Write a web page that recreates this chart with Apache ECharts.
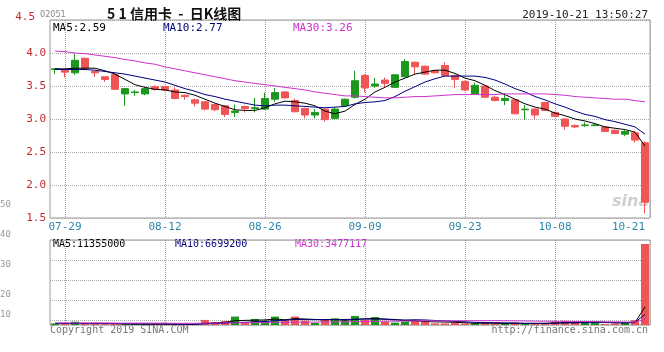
<!DOCTYPE html>
<html>
<head>
<meta charset="utf-8">
<title>51信用卡 - 日K线图</title>
<script src="https://cdn.jsdelivr.net/npm/echarts@6/dist/echarts.min.js"></script>
<style>
  html, body { margin: 0; padding: 0; background: #fff; }
  #chart { width: 664px; height: 352px; }
</style>
</head>
<body>
<div id="chart"></div>
<script>
// 交易日
var dates = [
  "07-26", "07-29", "07-30", "07-31", "08-01", "08-02", "08-05", "08-06", "08-07", "08-08",
  "08-09", "08-12", "08-13", "08-14", "08-15", "08-16", "08-19", "08-20", "08-21", "08-22",
  "08-23", "08-26", "08-27", "08-28", "08-29", "08-30", "09-02", "09-03", "09-04", "09-05",
  "09-06", "09-09", "09-10", "09-11", "09-12", "09-13", "09-16", "09-17", "09-18", "09-19",
  "09-20", "09-23", "09-24", "09-25", "09-26", "09-27", "09-30", "10-02", "10-03", "10-04",
  "10-08", "10-09", "10-10", "10-11", "10-14", "10-15", "10-16", "10-17", "10-18", "10-21"
];
// 显示的日期标签 / 竖线
var labelDates = ["07-29", "08-12", "08-26", "09-09", "09-23", "10-08", "10-21"];
var lineDates = ["07-29", "08-12", "08-26", "09-09", "09-23", "10-08"];

// K线 开 收 低 高
var open = [
  3.75, 3.74, 3.70, 3.92, 3.72, 3.64, 3.67, 3.38, 3.40, 3.38,
  3.49, 3.49, 3.44, 3.36, 3.29, 3.26, 3.22, 3.20, 3.10, 3.19,
  3.16, 3.15, 3.30, 3.41, 3.28, 3.16, 3.06, 3.15, 3.01, 3.20,
  3.33, 3.66, 3.50, 3.59, 3.48, 3.64, 3.86, 3.80, 3.73, 3.81,
  3.66, 3.57, 3.38, 3.50, 3.33, 3.28, 3.29, 3.14, 3.15, 3.25,
  3.10, 3.00, 2.90, 2.90, 2.90, 2.88, 2.83, 2.77, 2.79, 2.64
];
var close = [
  3.76, 3.71, 3.89, 3.77, 3.70, 3.60, 3.45, 3.46, 3.41, 3.46,
  3.45, 3.44, 3.31, 3.34, 3.24, 3.15, 3.14, 3.07, 3.12, 3.16,
  3.17, 3.31, 3.40, 3.32, 3.11, 3.06, 3.10, 2.99, 3.15, 3.30,
  3.58, 3.47, 3.53, 3.54, 3.67, 3.87, 3.79, 3.68, 3.70, 3.66,
  3.60, 3.44, 3.51, 3.33, 3.28, 3.31, 3.08, 3.15, 3.06, 3.13,
  3.04, 2.89, 2.88, 2.91, 2.91, 2.81, 2.78, 2.81, 2.68, 1.74
];
var low = [
  3.68, 3.63, 3.67, 3.76, 3.64, 3.56, 3.44, 3.20, 3.35, 3.36,
  3.43, 3.42, 3.30, 3.29, 3.19, 3.13, 3.12, 3.03, 3.03, 3.10,
  3.10, 3.14, 3.26, 3.31, 3.10, 3.01, 3.01, 2.96, 2.99, 3.19,
  3.31, 3.40, 3.47, 3.47, 3.47, 3.63, 3.68, 3.67, 3.69, 3.65,
  3.47, 3.43, 3.37, 3.32, 3.27, 3.21, 3.07, 2.99, 3.00, 3.12,
  3.03, 2.84, 2.86, 2.88, 2.89, 2.80, 2.77, 2.74, 2.64, 1.57
];
var high = [
  3.77, 3.75, 3.99, 3.93, 3.72, 3.64, 3.70, 3.46, 3.44, 3.48,
  3.51, 3.50, 3.48, 3.37, 3.31, 3.27, 3.23, 3.21, 3.22, 3.20,
  3.32, 3.40, 3.47, 3.42, 3.31, 3.17, 3.15, 3.16, 3.17, 3.31,
  3.73, 3.68, 3.62, 3.63, 3.67, 3.91, 3.87, 3.81, 3.74, 3.86,
  3.67, 3.58, 3.55, 3.51, 3.35, 3.39, 3.30, 3.21, 3.16, 3.26,
  3.11, 3.01, 2.92, 2.95, 2.93, 2.89, 2.84, 2.83, 2.82, 2.66
];

// 均线
var ma5 = [
  3.76, 3.76, 3.77, 3.77, 3.77, 3.73, 3.68, 3.60, 3.52, 3.48,
  3.45, 3.44, 3.41, 3.40, 3.36, 3.30, 3.24, 3.19, 3.14, 3.13,
  3.13, 3.17, 3.23, 3.27, 3.26, 3.24, 3.20, 3.12, 3.08, 3.12,
  3.22, 3.30, 3.41, 3.48, 3.56, 3.62, 3.68, 3.71, 3.74, 3.74,
  3.69, 3.62, 3.58, 3.51, 3.43, 3.37, 3.30, 3.23, 3.18, 3.15,
  3.09, 3.05, 3.00, 2.97, 2.93, 2.88, 2.86, 2.84, 2.80, 2.59
];
var ma10 = [
  3.75, 3.75, 3.75, 3.75, 3.74, 3.72, 3.70, 3.68, 3.65, 3.62,
  3.59, 3.56, 3.51, 3.46, 3.42, 3.37, 3.34, 3.30, 3.27, 3.24,
  3.21, 3.20, 3.21, 3.21, 3.20, 3.19, 3.18, 3.17, 3.18, 3.19,
  3.23, 3.25, 3.26, 3.28, 3.34, 3.42, 3.49, 3.56, 3.61, 3.65,
  3.65, 3.65, 3.65, 3.63, 3.59, 3.53, 3.46, 3.41, 3.34, 3.29,
  3.23, 3.18, 3.12, 3.07, 3.04, 2.99, 2.96, 2.92, 2.88, 2.77
];
var ma30 = [
  4.03, 4.02, 4.00, 3.99, 3.97, 3.95, 3.93, 3.90, 3.88, 3.85,
  3.83, 3.79, 3.76, 3.73, 3.70, 3.67, 3.64, 3.61, 3.58, 3.56,
  3.54, 3.52, 3.50, 3.48, 3.46, 3.44, 3.41, 3.39, 3.37, 3.35,
  3.35, 3.34, 3.33, 3.32, 3.32, 3.33, 3.34, 3.34, 3.35, 3.36,
  3.37, 3.37, 3.37, 3.37, 3.37, 3.38, 3.38, 3.38, 3.38, 3.38,
  3.37, 3.36, 3.34, 3.33, 3.32, 3.31, 3.30, 3.30, 3.28, 3.26
];

// 成交量(百万股)
var volume = [
  1.0, 0.6, 2.1, 1.0, 0.6, 0.5, 0.6, 0.5, 0.4, 0.5,
  0.6, 0.5, 0.5, 0.4, 0.5, 3.2, 1.9, 2.5, 5.3, 1.7,
  3.8, 2.7, 5.3, 2.9, 5.3, 2.7, 1.3, 3.8, 4.2, 2.7,
  5.7, 3.2, 5.0, 2.1, 1.5, 2.1, 2.7, 2.5, 1.0, 1.0,
  1.6, 0.9, 1.1, 1.0, 0.8, 0.9, 1.5, 0.8, 1.0, 0.9,
  2.2, 2.6, 1.6, 1.8, 2.0, 0.6, 0.8, 1.4, 3.0, 51.0
];
var volMa5 = [
  1.0, 1.0, 1.0, 1.0, 1.06, 0.96, 0.96, 0.64, 0.52, 0.50,
  0.52, 0.50, 0.50, 0.50, 0.50, 1.02, 1.30, 1.70, 2.68, 2.92,
  3.04, 3.20, 3.76, 3.28, 4.00, 3.78, 3.50, 3.20, 3.46, 2.94,
  3.54, 3.92, 4.16, 3.74, 3.50, 2.78, 2.68, 2.18, 1.96, 1.86,
  1.76, 1.40, 1.12, 1.12, 1.08, 0.94, 1.06, 1.00, 1.00, 1.02,
  1.28, 1.50, 1.66, 1.82, 2.04, 1.72, 1.36, 1.32, 1.56, 11.36
];
var volMa10 = [
  1.0, 1.0, 1.0, 0.95, 0.9, 0.9, 0.85, 0.8, 0.8, 0.78,
  0.74, 0.73, 0.57, 0.51, 0.50, 0.77, 0.90, 1.10, 1.59, 1.71,
  2.03, 2.25, 2.73, 2.98, 3.46, 3.41, 3.35, 3.48, 3.37, 3.47,
  3.66, 3.71, 3.68, 3.60, 3.22, 3.16, 3.30, 3.17, 2.85, 2.68,
  2.27, 2.04, 1.65, 1.54, 1.47, 1.35, 1.23, 1.06, 1.06, 1.05,
  1.11, 1.28, 1.33, 1.41, 1.53, 1.50, 1.43, 1.49, 1.69, 6.70
];
var volMa30 = [
  1.3, 1.3, 1.3, 1.3, 1.3, 1.3, 1.2, 1.2, 1.2, 1.2,
  1.2, 1.2, 1.1, 1.1, 1.1, 1.2, 1.2, 1.3, 1.4, 1.4,
  1.5, 1.6, 1.7, 1.7, 1.8, 1.8, 1.8, 1.9, 1.9, 1.99,
  2.14, 2.23, 2.33, 2.36, 2.39, 2.45, 2.52, 2.58, 2.60, 2.62,
  2.65, 2.67, 2.69, 2.71, 2.72, 2.64, 2.63, 2.57, 2.43, 2.40,
  2.35, 2.34, 2.22, 2.18, 2.07, 2.00, 1.99, 1.91, 1.87, 3.48
];

// 左侧灰色刻度
var sideTicks = ["50", "40", "30", "20", "10"];

var GREEN = "#1c961c";
var RED = "#f05555";
var MONO = '"DejaVu Sans Mono", monospace';

var kData = dates.map(function (d, i) {
  return [open[i], close[i], low[i], high[i]];
});

// 半格类目轴，用来把竖线画在K线中心
var halfSlots = [];
dates.forEach(function (d) {
  halfSlots.push(d + "L", d + "R");
});
var lineIdx = lineDates.map(function (d) {
  return dates.indexOf(d) * 2 + 1;
});

function gridXAxis(gridIndex) {
  return {
    type: "category",
    gridIndex: gridIndex,
    data: halfSlots,
    boundaryGap: true,
    axisLine: { show: false },
    axisTick: { show: false },
    axisLabel: { show: false },
    splitLine: {
      show: true,
      interval: function (idx) {
        return lineIdx.indexOf(idx) >= 0;
      },
      lineStyle: { type: "dotted", color: "#999", width: 1 }
    }
  };
}

var chart = echarts.init(document.getElementById("chart"));

var option = {
  animation: false,
  backgroundColor: "#fff",
  grid: [
    { left: 50, right: 14, top: 20, height: 198, show: true, borderColor: "#999", borderWidth: 1 },
    { left: 50, right: 14, top: 240, height: 85, show: true, borderColor: "#999", borderWidth: 1 }
  ],
  xAxis: [
    {
      type: "category",
      gridIndex: 0,
      data: dates,
      boundaryGap: true,
      axisLine: { show: false },
      axisTick: { show: false },
      splitLine: { show: false },
      axisLabel: {
        interval: function (idx, val) {
          return labelDates.indexOf(val) >= 0;
        },
        color: "#2a86a8",
        fontFamily: MONO,
        fontSize: 11,
        margin: 4,
        alignMaxLabel: "right"
      }
    },
    {
      type: "category",
      gridIndex: 1,
      data: dates,
      boundaryGap: true,
      axisLine: { show: false },
      axisTick: { show: false },
      axisLabel: { show: false },
      splitLine: { show: false }
    },
    gridXAxis(0),
    gridXAxis(1)
  ],
  yAxis: [
    {
      type: "value",
      gridIndex: 0,
      min: 1.5,
      max: 4.5,
      interval: 0.5,
      axisLine: { show: false },
      axisTick: { show: false },
      axisLabel: {
        color: "#c42b2b",
        fontFamily: MONO,
        fontSize: 11,
        margin: 4,
        formatter: function (v) {
          return v === 4.5 ? "{t|4.5}" : v.toFixed(1);
        },
        rich: {
          t: { color: "#c42b2b", fontFamily: MONO, fontSize: 11, padding: [0, 11, 6, 0] }
        }
      },
      splitLine: { lineStyle: { type: "dotted", color: "#aaa" } }
    },
    {
      type: "value",
      gridIndex: 1,
      min: 0,
      max: 53.5,
      show: false,
      splitLine: { show: false }
    },
    {
      // 成交量区横线
      type: "value",
      gridIndex: 1,
      inverse: true,
      min: 0,
      max: 85,
      interval: 20,
      axisLine: { show: false },
      axisTick: { show: false },
      axisLabel: { show: false },
      splitLine: { lineStyle: { type: "dotted", color: "#aaa" } }
    }
  ],
  series: [
    {
      name: "K",
      type: "candlestick",
      xAxisIndex: 0,
      yAxisIndex: 0,
      barWidth: 7,
      data: kData,
      itemStyle: {
        color: GREEN,
        color0: RED,
        borderColor: GREEN,
        borderColor0: RED,
        borderWidth: 1
      }
    },
    {
      name: "MA5",
      type: "line",
      xAxisIndex: 0,
      yAxisIndex: 0,
      data: ma5,
      symbol: "none",
      lineStyle: { color: "#000", width: 1 }
    },
    {
      name: "MA10",
      type: "line",
      xAxisIndex: 0,
      yAxisIndex: 0,
      data: ma10,
      symbol: "none",
      lineStyle: { color: "#000080", width: 1 }
    },
    {
      name: "MA30",
      type: "line",
      xAxisIndex: 0,
      yAxisIndex: 0,
      data: ma30,
      symbol: "none",
      lineStyle: { color: "#cc33cc", width: 1 }
    },
    {
      name: "VOL",
      type: "bar",
      xAxisIndex: 1,
      yAxisIndex: 1,
      barWidth: 8,
      data: volume,
      itemStyle: {
        color: function (p) {
          return close[p.dataIndex] >= open[p.dataIndex] ? GREEN : RED;
        }
      }
    },
    {
      name: "VMA5",
      type: "line",
      xAxisIndex: 1,
      yAxisIndex: 1,
      data: volMa5,
      symbol: "none",
      lineStyle: { color: "#000", width: 1 }
    },
    {
      name: "VMA10",
      type: "line",
      xAxisIndex: 1,
      yAxisIndex: 1,
      data: volMa10,
      symbol: "none",
      lineStyle: { color: "#000080", width: 1 }
    },
    {
      name: "VMA30",
      type: "line",
      xAxisIndex: 1,
      yAxisIndex: 1,
      data: volMa30,
      symbol: "none",
      lineStyle: { color: "#cc33cc", width: 1 }
    }
  ],
  graphic: [
    { type: "text", x: 40, y: 15, style: { text: "02051", fill: "#888", font: '9px "DejaVu Sans Condensed"', verticalAlign: "middle" } },
    { type: "text", x: 107, y: 14, style: { text: "5 1 信用卡  -  日K线图", fill: "#111", font: 'bold 14px "Noto Sans CJK SC"', verticalAlign: "middle" } },
    { type: "text", x: 648, y: 15, style: { text: "2019-10-21 13:50:27", fill: "#222", font: "11px " + MONO, align: "right", verticalAlign: "middle" } },
    { type: "text", x: 53, y: 28, style: { text: "MA5:2.59", fill: "#000", font: "11px " + MONO, verticalAlign: "middle" } },
    { type: "text", x: 163, y: 28, style: { text: "MA10:2.77", fill: "#000080", font: "11px " + MONO, verticalAlign: "middle" } },
    { type: "text", x: 293, y: 28, style: { text: "MA30:3.26", fill: "#cc33cc", font: "11px " + MONO, verticalAlign: "middle" } },
    { type: "text", x: 53, y: 244, style: { text: "MA5:11355000", fill: "#000", font: "10px " + MONO, verticalAlign: "middle" } },
    { type: "text", x: 175, y: 244, style: { text: "MA10:6699200", fill: "#000080", font: "10px " + MONO, verticalAlign: "middle" } },
    { type: "text", x: 295, y: 244, style: { text: "MA30:3477117", fill: "#cc33cc", font: "10px " + MONO, verticalAlign: "middle" } },
    { type: "text", x: 50, y: 330, style: { text: "Copyright 2019 SINA.COM", fill: "#777", font: "10px " + MONO, verticalAlign: "middle" } },
    { type: "text", x: 648, y: 330, style: { text: "http://finance.sina.com.cn", fill: "#777", font: "10px " + MONO, align: "right", verticalAlign: "middle" } },
    { type: "text", x: 612, y: 202, style: { text: "sina", fill: "#cfcfcf", font: 'italic bold 16px "DejaVu Sans"', verticalAlign: "middle" } },
    { type: "text", x: 0, y: 205, style: { text: sideTicks[0], fill: "#999", font: "9px " + MONO, verticalAlign: "middle" } },
    { type: "text", x: 0, y: 235, style: { text: sideTicks[1], fill: "#999", font: "9px " + MONO, verticalAlign: "middle" } },
    { type: "text", x: 0, y: 265, style: { text: sideTicks[2], fill: "#999", font: "9px " + MONO, verticalAlign: "middle" } },
    { type: "text", x: 0, y: 295, style: { text: sideTicks[3], fill: "#999", font: "9px " + MONO, verticalAlign: "middle" } },
    { type: "text", x: 0, y: 315, style: { text: sideTicks[4], fill: "#999", font: "9px " + MONO, verticalAlign: "middle" } }
  ]
};

chart.setOption(option);
</script>
</body>
</html>
